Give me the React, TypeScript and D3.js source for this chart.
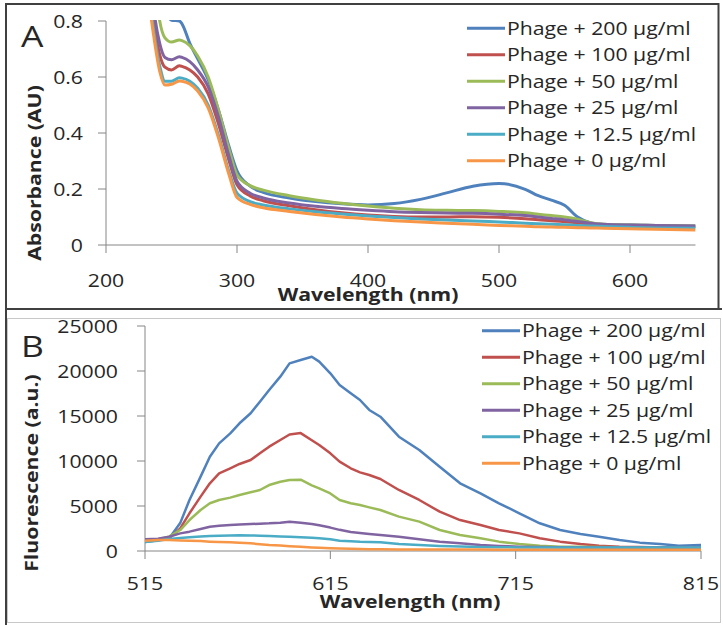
import React from "react";
import * as d3 from "d3";

// legend / series labels, top to bottom
const seriesNames = [
  "Phage + 200 µg/ml",
  "Phage + 100 µg/ml",
  "Phage + 50 µg/ml",
  "Phage + 25 µg/ml",
  "Phage + 12.5 µg/ml",
  "Phage + 0 µg/ml",
];
const seriesColors = ["#4F81BD", "#C0504D", "#9BBB59", "#8064A2", "#4BACC6", "#F79646"];

// Panel A: absorbance spectra
const wavelengthA = [230, 236, 241, 245, 250, 256, 258, 264, 270, 278, 286, 294, 300, 310, 320, 340, 360, 380, 400, 420, 440, 460, 480, 500, 520, 530, 540, 550, 560, 570, 580, 600, 620, 650];
const absorb200 = [1.6, 1.3, 1.0, 0.85, 0.803, 0.8, 0.79, 0.72, 0.665, 0.59, 0.48, 0.35, 0.265, 0.21, 0.188, 0.168, 0.155, 0.147, 0.143, 0.148, 0.163, 0.186, 0.21, 0.22, 0.199, 0.176, 0.16, 0.142, 0.1, 0.079, 0.073, 0.071, 0.07, 0.068];
const absorb100 = [1.2, 0.82, 0.68, 0.635, 0.625, 0.64, 0.638, 0.625, 0.6, 0.54, 0.43, 0.3, 0.215, 0.175, 0.158, 0.14, 0.126, 0.115, 0.107, 0.102, 0.1, 0.1, 0.101, 0.099, 0.094, 0.09, 0.087, 0.083, 0.079, 0.075, 0.071, 0.068, 0.066, 0.064];
const absorb50 = [1.4, 1.0, 0.8, 0.74, 0.725, 0.732, 0.73, 0.712, 0.675, 0.6, 0.48, 0.34, 0.25, 0.212, 0.196, 0.176, 0.161, 0.149, 0.139, 0.131, 0.126, 0.124, 0.123, 0.12, 0.115, 0.11, 0.105, 0.1, 0.092, 0.08, 0.074, 0.071, 0.07, 0.068];
const absorb25 = [1.2, 0.86, 0.72, 0.67, 0.662, 0.672, 0.67, 0.655, 0.625, 0.565, 0.455, 0.315, 0.228, 0.185, 0.168, 0.15, 0.138, 0.13, 0.124, 0.119, 0.116, 0.114, 0.113, 0.11, 0.105, 0.1, 0.095, 0.09, 0.084, 0.078, 0.074, 0.071, 0.07, 0.068];
const absorb12 = [1.0, 0.78, 0.64, 0.585, 0.585, 0.597, 0.596, 0.585, 0.56, 0.5, 0.39, 0.26, 0.185, 0.155, 0.143, 0.129, 0.119, 0.111, 0.104, 0.098, 0.093, 0.089, 0.086, 0.082, 0.078, 0.076, 0.074, 0.072, 0.07, 0.068, 0.066, 0.063, 0.061, 0.06];
const absorb0 = [0.98, 0.76, 0.62, 0.571, 0.574, 0.586, 0.585, 0.575, 0.55, 0.49, 0.38, 0.25, 0.17, 0.145, 0.133, 0.12, 0.109, 0.1, 0.093, 0.087, 0.082, 0.078, 0.074, 0.07, 0.067, 0.065, 0.064, 0.063, 0.062, 0.061, 0.06, 0.058, 0.056, 0.054];
const xTicksA = [200, 300, 400, 500, 600];
const yTicksA = [0, 0.2, 0.4, 0.6, 0.8];

// Panel B: fluorescence spectra
const wavelengthB = [515, 522, 528, 534, 539, 545, 550, 555, 561, 566, 572, 577, 582, 588, 593, 599, 605, 609, 615, 620, 626, 631, 636, 642, 652, 663, 674, 685, 696, 706, 717, 728, 739, 750, 760, 771, 782, 793, 803, 815];
const fluor200 = [1000, 1200, 1400, 3100, 5670, 8260, 10480, 11960, 13070, 14190, 15300, 16590, 17890, 19370, 20850, 21220, 21590, 21040, 19740, 18440, 17520, 16780, 15670, 14920, 12700, 11220, 9370, 7520, 6410, 5300, 4190, 3080, 2330, 1890, 1590, 1220, 930, 780, 590, 670];
const fluor100 = [1100, 1250, 1400, 2520, 4190, 6040, 7520, 8630, 9190, 9670, 10110, 10850, 11590, 12330, 12950, 13100, 12300, 11780, 10850, 9930, 9190, 8740, 8440, 8000, 6780, 5670, 4370, 3440, 2890, 2330, 1960, 1410, 1040, 780, 590, 480, 440, 400, 400, 400];
const fluor50 = [1200, 1300, 1590, 2330, 3440, 4560, 5300, 5670, 5930, 6220, 6520, 6780, 7330, 7700, 7900, 7920, 7300, 6950, 6400, 5670, 5300, 5110, 4850, 4560, 3820, 3260, 2330, 1780, 1410, 1040, 780, 590, 480, 460, 440, 420, 400, 400, 400, 400];
const fluor25 = [1300, 1350, 1590, 1960, 2150, 2450, 2700, 2800, 2890, 2950, 3000, 3030, 3070, 3150, 3260, 3150, 3000, 2850, 2600, 2350, 2100, 2000, 1900, 1780, 1590, 1300, 1040, 850, 660, 560, 480, 440, 420, 400, 400, 400, 400, 400, 400, 400];
const fluor12 = [1000, 1150, 1330, 1450, 1520, 1600, 1670, 1700, 1720, 1740, 1720, 1700, 1670, 1620, 1570, 1520, 1470, 1410, 1300, 1150, 1080, 1020, 990, 960, 780, 670, 560, 500, 440, 420, 400, 390, 380, 380, 380, 380, 380, 380, 380, 380];
const fluor0 = [1150, 1220, 1220, 1180, 1150, 1100, 1040, 1000, 960, 930, 850, 760, 670, 600, 540, 480, 400, 350, 300, 280, 250, 220, 200, 190, 180, 170, 165, 160, 155, 150, 150, 150, 150, 150, 150, 150, 150, 150, 150, 150];
const xTicksB = [515, 615, 715, 815];
const yTicksB = [0, 5000, 10000, 15000, 20000, 25000];

const seriesA = [absorb200, absorb100, absorb50, absorb25, absorb12, absorb0];
const seriesB = [fluor200, fluor100, fluor50, fluor25, fluor12, fluor0];

const FONT = "'Open Sans', sans-serif";
const SX = 1.18; // the source picture is stretched sideways
const AXIS = "#868686";
const INK = "#262626";

function Txt({ x, y, anchor = "start", rotate = 0, size = 18, weight = 400, children }: any) {
  const tr = `translate(${x},${y})${rotate ? ` rotate(${rotate})` : ""} scale(${SX},1)`;
  return (
    <text transform={tr} textAnchor={anchor} fontSize={size} fontWeight={weight} fontFamily={FONT} fill={INK}>
      {children}
    </text>
  );
}

function Panel({ letter, xs, ys, wl, series, xTicks, yTicks, yFmt, curve, lw, yTitle, yTitleX, yTitleY, xTitleX, xTitleY, xLabY, yLabEnd, letterY, legendX, legendY, clipId }: any) {
  const [x0, x1] = xs.range();
  const [y0, y1] = ys.range();
  const line = d3
    .line<number>()
    .x((_, i) => xs(wl[i]))
    .y((d) => ys(d))
    .curve(curve);
  return (
    <g>
      <defs>
        <clipPath id={clipId}>
          <rect x={x0} y={y1 - 1} width={x1 - x0} height={y0 - y1 + 1} />
        </clipPath>
      </defs>
      {/* axes */}
      <line x1={x0} x2={x1} y1={y0} y2={y0} stroke={AXIS} />
      <line x1={x0} x2={x0} y1={y1} y2={y0} stroke={AXIS} />
      {xTicks.map((t: number) => (
        <g key={"x" + t}>
          <line x1={xs(t)} x2={xs(t)} y1={y0} y2={y0 + 8} stroke={AXIS} />
          <Txt x={xs(t)} y={xLabY} anchor="middle">{t}</Txt>
        </g>
      ))}
      {yTicks.map((t: number) => (
        <g key={"y" + t}>
          <line x1={x0 - 8} x2={x0} y1={ys(t)} y2={ys(t)} stroke={AXIS} />
          <Txt x={yLabEnd} y={ys(t) + 6.5} anchor="end">{yFmt(t)}</Txt>
        </g>
      ))}
      {/* spectra */}
      <g clipPath={`url(#${clipId})`}>
        {series.map((s: number[], i: number) => (
          <path key={i} d={line(s) || ""} fill="none" stroke={seriesColors[i]} strokeWidth={lw} strokeLinejoin="round" />
        ))}
      </g>
      {/* titles */}
      <Txt x={xTitleX} y={xTitleY} anchor="middle" weight={700}>Wavelength (nm)</Txt>
      <Txt x={yTitleX} y={yTitleY} anchor="middle" rotate={-90} weight={700}>{yTitle}</Txt>
      <Txt x={21} y={letterY} size={30}>{letter}</Txt>
      {/* legend */}
      {seriesNames.map((n, i) => (
        <g key={n}>
          <line x1={legendX} x2={legendX + 38} y1={legendY + i * 26.5} y2={legendY + i * 26.5} stroke={seriesColors[i]} strokeWidth={3} />
          <Txt x={legendX + 40} y={legendY + i * 26.5 + 6.5}>{n}</Txt>
        </g>
      ))}
    </g>
  );
}

export default function App() {
  const xA = d3.scaleLinear().domain([200, 650]).range([106, 695.5]);
  const yA = d3.scaleLinear().domain([0, 0.8]).range([245, 21]);
  const xB = d3.scaleLinear().domain([515, 815]).range([145, 701]);
  const yB = d3.scaleLinear().domain([0, 25000]).range([551, 326]);

  return (
    <svg width={723} height={625} style={{ position: "absolute", left: 0, top: 0, background: "#fff" }}>
      <rect x={0} y={0} width={723} height={625} fill="#fff" />
      {/* frames */}
      <rect x={7.5} y={318.5} width={713} height={304} fill="none" stroke="#c8c8c8" />
      <rect x={6} y={4} width={712.5} height={305} fill="none" stroke="#404040" strokeWidth={2} />
      <line x1={6} x2={6} y1={309} y2={625} stroke="#404040" strokeWidth={2} />
      <line x1={6} x2={722} y1={309} y2={309} stroke="#404040" strokeWidth={2} />

      <Panel
        letter="A"
        xs={xA}
        ys={yA}
        wl={wavelengthA}
        series={seriesA}
        xTicks={xTicksA}
        yTicks={yTicksA}
        yFmt={(d: number) => (d === 0 ? "0" : d3.format(".1f")(d))}
        curve={d3.curveMonotoneX}
        lw={3}
        yTitle="Absorbance (AU)"
        yTitleX={41}
        yTitleY={173}
        xTitleX={368}
        xTitleY={301}
        xLabY={287}
        yLabEnd={83}
        letterY={47}
        legendX={467}
        legendY={28.3}
        clipId="clipA"
      />
      <Panel
        letter="B"
        xs={xB}
        ys={yB}
        wl={wavelengthB}
        series={seriesB}
        xTicks={xTicksB}
        yTicks={yTicksB}
        yFmt={(d: number) => String(d)}
        curve={d3.curveLinear}
        lw={2.5}
        yTitle="Fluorescence (a.u.)"
        yTitleX={38}
        yTitleY={473}
        xTitleX={410}
        xTitleY={608}
        xLabY={590}
        yLabEnd={118}
        letterY={357}
        legendX={482}
        legendY={330.7}
        clipId="clipB"
      />
    </svg>
  );
}
